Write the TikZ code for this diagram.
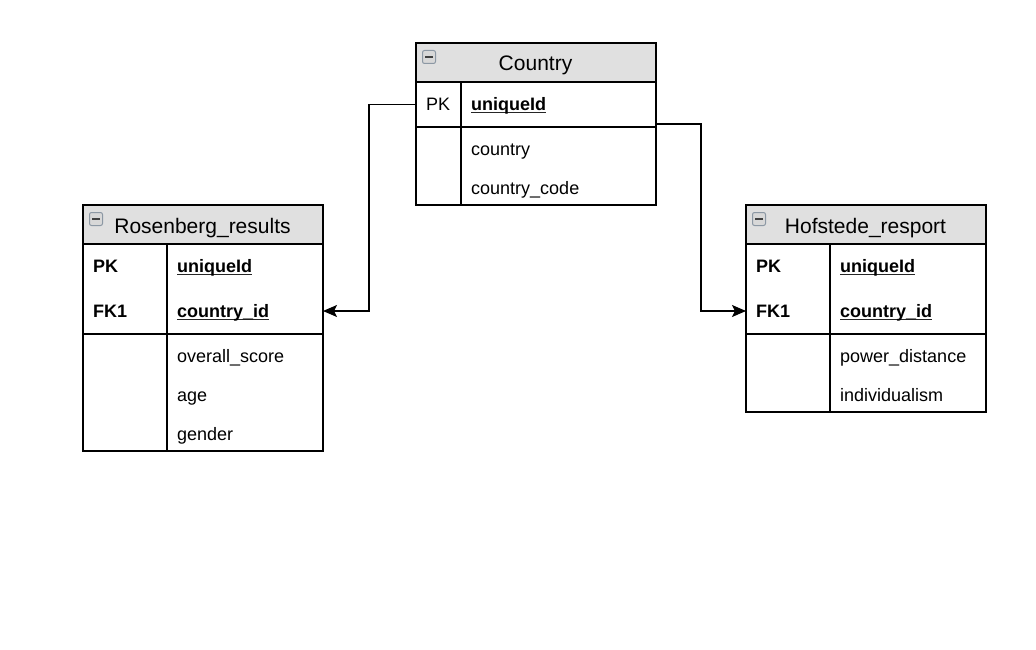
\documentclass[tikz,border=0pt]{standalone}
\usepackage{fontspec}
\setmainfont{Liberation Sans}
\usetikzlibrary{arrows.meta}
\definecolor{hdrgray}{HTML}{E0E0E0}
\definecolor{icoborder}{HTML}{8C98A4}
\definecolor{icofill}{HTML}{D8D8D8}
\definecolor{icominus}{HTML}{404040}
\newcommand\fieldul[1]{\setbox0\hbox{#1}\rlap{\color{black!85}\rule[-2.6pt]{\wd0}{1.4pt}}\box0}
\tikzset{
  x=1pt, y=-1pt,
  tblpart/.style={draw=black, line width=1.3pt, inner sep=0pt, minimum width=240pt},
  hdr/.style={tblpart, fill=hdrgray, minimum height=39pt},
  coltxt/.style={inner sep=0pt, anchor=base west, font=\fontsize{18}{20}\selectfont},
  hdrtxt/.style={inner sep=0pt, anchor=base, font=\fontsize{21}{23}\selectfont},
  conn/.style={draw=black, line width=1.3pt, -{Stealth[length=14pt,width=12pt,inset=3pt]}},
  sepline/.style={draw=black, line width=1.3pt},
  ico/.style={draw=icoborder, fill=icofill, line width=1pt, rounded corners=2pt, minimum size=13pt, inner sep=0pt},
  icobar/.style={draw=icominus, line width=2pt}
}
\begin{document}
\begin{tikzpicture}
\useasboundingbox (0,0) rectangle (1036,650);
\fill[white] (0,0) rectangle (1036,650);

% ---------- Country ----------
\node[hdr] (c-hdr) at (536,62.5) {};
\node[tblpart, minimum height=45pt] (c-pk) at (536,104.5) {};
\node[tblpart, minimum height=78pt] (c-fields) at (536,166) {};
\draw[sepline] (461,82) -- (461,205);
\node[ico] (c-ico) at (429,57) {};
\draw[icobar] (c-ico.center) ++(-4,0) -- ++(8,0);
\node[hdrtxt] (c-title) at (535.5,71) {Country};
\node[coltxt] (c-k1) at (426,110.5) {PK};
\node[coltxt] (c-f1) at (471,110.5) {\bfseries\fieldul{uniqueId}};
\node[coltxt] (c-f2) at (471,155.5) {country};
\node[coltxt] (c-f3) at (471,194.5) {country\_code};

% ---------- Rosenberg_results ----------
\node[hdr] (r-hdr) at (203,224.5) {};
\node[tblpart, minimum height=90pt] (r-keys) at (203,289) {};
\node[tblpart, minimum height=117pt] (r-fields) at (203,392.5) {};
\draw[sepline] (167,244) -- (167,451);
\node[ico] (r-ico) at (96,219) {};
\draw[icobar] (r-ico.center) ++(-4,0) -- ++(8,0);
\node[hdrtxt] (r-title) at (202.5,233) {Rosenberg\_results};
\node[coltxt] (r-k1) at (93,272.5) {\bfseries PK};
\node[coltxt] (r-k2) at (93,317.5) {\bfseries FK1};
\node[coltxt] (r-f1) at (177,272.5) {\bfseries\fieldul{uniqueId}};
\node[coltxt] (r-f2) at (177,317.5) {\bfseries\fieldul{country\_id}};
\node[coltxt] (r-f3) at (177,362.5) {overall\_score};
\node[coltxt] (r-f4) at (177,401.5) {age};
\node[coltxt] (r-f5) at (177,440.5) {gender};

% ---------- Hofstede_resport ----------
\node[hdr] (h-hdr) at (866,224.5) {};
\node[tblpart, minimum height=90pt] (h-keys) at (866,289) {};
\node[tblpart, minimum height=78pt] (h-fields) at (866,373) {};
\draw[sepline] (830,244) -- (830,412);
\node[ico] (h-ico) at (759,219) {};
\draw[icobar] (h-ico.center) ++(-4,0) -- ++(8,0);
\node[hdrtxt] (h-title) at (865.5,233) {Hofstede\_resport};
\node[coltxt] (h-k1) at (756,272.5) {\bfseries PK};
\node[coltxt] (h-k2) at (756,317.5) {\bfseries FK1};
\node[coltxt] (h-f1) at (840,272.5) {\bfseries\fieldul{uniqueId}};
\node[coltxt] (h-f2) at (840,317.5) {\bfseries\fieldul{country\_id}};
\node[coltxt] (h-f3) at (840,362.5) {power\_distance};
\node[coltxt] (h-f4) at (840,401.5) {individualism};

% ---------- connectors ----------
\coordinate (c-out) at (656,124);
\coordinate (r-in) at (323,311);
\coordinate (h-in) at (746,311);
\draw[conn] (c-pk.west) -- (369,104.5) |- (r-in);
\draw[conn] (c-out) -- (701,124) |- (h-in);
\end{tikzpicture}
\end{document}
